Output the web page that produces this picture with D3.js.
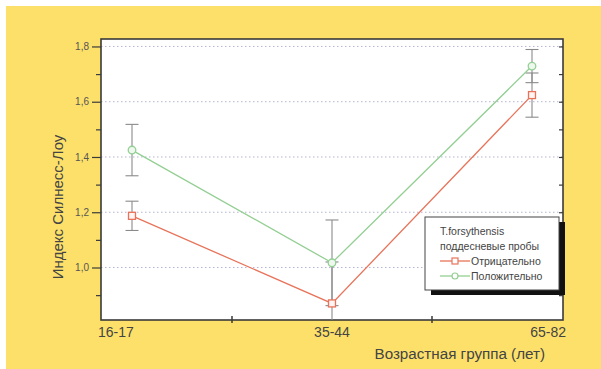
<!DOCTYPE html>
<html><head><meta charset="utf-8">
<script src="https://cdn.jsdelivr.net/npm/d3@7"></script>
<style>body{margin:0;background:#fff}svg{display:block;font-family:Arial,"Liberation Sans",sans-serif}</style>
</head><body>
<svg id="c" width="601" height="369"></svg>
<script>
const categories = ["16-17", "35-44", "65-82"];
const negValues = [1.187, 0.870, 1.624];
const negErrors = [0.053, 0.150, 0.080];
const posValues = [1.425, 1.017, 1.729];
const posErrors = [0.093, 0.155, 0.060];
const yMajorTicks = [1.0, 1.2, 1.4, 1.6, 1.8];
const yMinorTicks = [0.9, 1.1, 1.3, 1.5, 1.7];
const seriesNames = ["Отрицательно", "Положительно"];
const legendTitle = ["T.forsythensis", "поддесневые пробы"];
const xTitle = "Возрастная группа (лет)";
const yTitle = "Индекс Силнесс-Лоу";

const svg = d3.select("#c");
const L = 101, R = 563, T = 39, B = 320;
const orange = "#e8735a", green = "#93cf93", gray = "#8a8a8a", axisC = "#3a3a3a";

svg.append("rect").attr("x", 6).attr("y", 6).attr("width", 595).attr("height", 363).attr("fill", "#fde06a");
svg.append("rect").attr("x", L).attr("y", T).attr("width", R - L).attr("height", B - T).attr("fill", "#fff");

const x = d3.scalePoint().domain(categories).range([L, R]).padding(0.155);
const y = d3.scaleLinear().domain([0.81, 1.827]).range([B, T]);

// grid
svg.append("g").selectAll("line").data(yMajorTicks).join("line")
  .attr("x1", L).attr("x2", R).attr("y1", d => y(d)).attr("y2", d => y(d))
  .attr("stroke", "#b4b4d4").attr("stroke-width", 1).attr("stroke-dasharray", "1.5,2.5");

// y axis left
const yAxis = d3.axisLeft(y).tickValues(yMajorTicks).tickSize(9).tickPadding(3)
  .tickFormat(d => d3.format(".1f")(d).replace(".", ","));
const gy = svg.append("g").attr("transform", `translate(${L},0)`).call(yAxis);
gy.select(".domain").remove();
gy.selectAll(".tick line").attr("stroke", axisC).attr("stroke-width", 1.2);
gy.selectAll(".tick text").attr("fill", "#555").attr("font-size", 10).attr("font-family", "Arial, Liberation Sans, sans-serif");
const gyMin = svg.append("g").attr("transform", `translate(${L},0)`)
  .call(d3.axisLeft(y).tickValues(yMinorTicks).tickSize(5).tickFormat(""));
gyMin.select(".domain").remove();
gyMin.selectAll(".tick line").attr("stroke", axisC).attr("stroke-width", 1.2);

// right axis ticks (inward)
const gr = svg.append("g").attr("transform", `translate(${R},0)`)
  .call(d3.axisLeft(y).tickValues(yMajorTicks.concat(yMinorTicks)).tickSize(4).tickFormat(""));
gr.select(".domain").remove();
gr.selectAll(".tick line").attr("stroke", axisC).attr("stroke-width", 1.2);

// x ticks at midpoints between categories
const mids = [ (x(categories[0]) + x(categories[1])) / 2, (x(categories[1]) + x(categories[2])) / 2 ];
svg.append("g").selectAll("line").data(mids).join("line")
  .attr("x1", d => d).attr("x2", d => d).attr("y1", B - 4).attr("y2", B + 3)
  .attr("stroke", axisC).attr("stroke-width", 1.5);

// frame
svg.append("rect").attr("x", L).attr("y", T).attr("width", R - L).attr("height", B - T)
  .attr("fill", "none").attr("stroke", axisC).attr("stroke-width", 1.6);

// x labels
const anchors = ["start", "middle", "end"];
const labelX = [L - 3, x(categories[1]), R + 3];
svg.append("g").selectAll("text").data(categories).join("text")
  .attr("x", (d, i) => labelX[i]).attr("y", 337).attr("text-anchor", (d, i) => anchors[i])
  .attr("font-size", 14).attr("fill", "#444").text(d => d);

svg.append("text").attr("x", 545).attr("y", 359).attr("text-anchor", "end")
  .attr("font-size", 15.2).attr("fill", "#444").text(xTitle);
svg.append("text").attr("transform", "translate(63,207) rotate(-90)").attr("text-anchor", "middle")
  .attr("font-size", 15).attr("fill", "#444").text(yTitle);

const plot = svg.append("g");
const line = d3.line().x((d, i) => x(categories[i])).y(d => y(d));
function errBars(vals, errs) {
  const g = plot.append("g").attr("stroke", gray).attr("stroke-width", 1.1);
  vals.forEach((v, i) => {
    const cx = x(categories[i]);
    const top = y(v + errs[i]), bot = Math.min(B, y(v - errs[i]));
    g.append("line").attr("x1", cx).attr("x2", cx).attr("y1", top).attr("y2", bot);
    g.append("line").attr("x1", cx - 6.5).attr("x2", cx + 6.5).attr("y1", top).attr("y2", top);
    if (y(v - errs[i]) <= B) g.append("line").attr("x1", cx - 6.5).attr("x2", cx + 6.5).attr("y1", bot).attr("y2", bot);
  });
}
errBars(posValues, posErrors);
errBars(negValues, negErrors);
plot.append("path").datum(posValues).attr("d", line).attr("fill", "none").attr("stroke", green).attr("stroke-width", 1.3);
plot.append("path").datum(negValues).attr("d", line).attr("fill", "none").attr("stroke", orange).attr("stroke-width", 1.3);
plot.append("g").selectAll("circle").data(posValues).join("circle")
  .attr("cx", (d, i) => x(categories[i])).attr("cy", d => y(d)).attr("r", 3.8)
  .attr("fill", "#eef8ee").attr("stroke", green).attr("stroke-width", 1.3);
plot.append("g").selectAll("rect").data(negValues).join("rect")
  .attr("x", (d, i) => x(categories[i]) - 3.5).attr("y", d => y(d) - 3.5).attr("width", 7).attr("height", 7)
  .attr("fill", "#fff5f2").attr("stroke", orange).attr("stroke-width", 1.3);

// legend
const lg = svg.append("g");
lg.append("rect").attr("x", 431).attr("y", 222).attr("width", 134).attr("height", 73).attr("fill", "#111");
lg.append("rect").attr("x", 425).attr("y", 217).attr("width", 134).attr("height", 73).attr("fill", "#fff").attr("stroke", "#444").attr("stroke-width", 1);
legendTitle.forEach((t, i) => lg.append("text").attr("x", 440).attr("y", 235 + i * 15)
  .attr("font-size", 10.5).attr("fill", "#444").text(t));
const cols = [orange, green];
seriesNames.forEach((n, i) => {
  const yy = 261 + i * 15;
  lg.append("line").attr("x1", 440).attr("x2", 470).attr("y1", yy).attr("y2", yy).attr("stroke", cols[i]).attr("stroke-width", 1.3);
  if (i === 0) lg.append("rect").attr("x", 452).attr("y", yy - 3).attr("width", 6).attr("height", 6).attr("fill", "#fff").attr("stroke", orange).attr("stroke-width", 1.2);
  else lg.append("circle").attr("cx", 455).attr("cy", yy).attr("r", 3).attr("fill", "#fff").attr("stroke", green).attr("stroke-width", 1.2);
  lg.append("text").attr("x", 471).attr("y", yy + 4).attr("font-size", 10.5).attr("fill", "#444").text(n);
});
</script>
</body></html>
